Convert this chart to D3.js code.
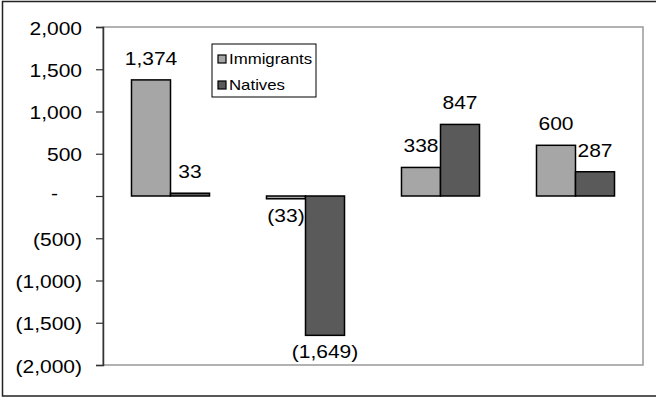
<!DOCTYPE html>
<html>
<head>
<meta charset="utf-8">
<script src="https://cdn.jsdelivr.net/npm/d3@7"></script>
<style>
  body { margin: 0; background: #fff; }
  svg { display: block; font-family: "Liberation Sans", Arial, sans-serif; }
</style>
</head>
<body>
<script>
// Data (no category labels are shown on the axis)
const categories = ["Group 1", "Group 2", "Group 3", "Group 4"];
const seriesNames = ["Immigrants", "Natives"];
const immigrants = [1374, -33, 338, 600];
const natives = [33, -1649, 847, 287];
const yTicks = [2000, 1500, 1000, 500, 0, -500, -1000, -1500, -2000];

const width = 656;
const height = 397;
const margin = { top: 27, right: 13, bottom: 32, left: 103 };
const stretch = 1.2; // text in the picture is drawn a bit wide
const colors = { Immigrants: "#a6a6a6", Natives: "#5a5a5a" };

const svg = d3.select("body")
  .append("svg")
  .attr("width", width)
  .attr("height", height);

// outer frame (right side falls off the picture)
svg.append("rect")
  .attr("x", 2.5).attr("y", 1.5)
  .attr("width", width + 10).attr("height", 394.5)
  .attr("fill", "none")
  .attr("stroke", "#222")
  .attr("stroke-width", 1.5);

const x0 = d3.scaleBand()
  .domain(categories)
  .range([margin.left, width - margin.right])
  .paddingInner(0.422)
  .paddingOuter(0.211);

const x1 = d3.scaleBand()
  .domain(seriesNames)
  .range([0, x0.bandwidth()]);

const y = d3.scaleLinear()
  .domain([-2000, 2000])
  .range([height - margin.bottom, margin.top]);

// plot area border
svg.append("rect")
  .attr("x", margin.left)
  .attr("y", margin.top)
  .attr("width", width - margin.right - margin.left)
  .attr("height", height - margin.bottom - margin.top)
  .attr("fill", "none")
  .attr("stroke", "#999")
  .attr("stroke-width", 1.5);

// y axis
const fmt = v => {
  if (v === 0) return "-";
  const s = d3.format(",")(Math.abs(v));
  return v < 0 ? `(${s})` : s;
};

const yAxis = svg.append("g")
  .attr("transform", `translate(${margin.left},0)`)
  .call(d3.axisLeft(y).tickValues(yTicks).tickSize(7).tickFormat(fmt));

yAxis.select(".domain").attr("stroke", "#333").attr("stroke-width", 1.5);
yAxis.selectAll(".tick line").attr("stroke", "#333").attr("stroke-width", 1.2);
yAxis.selectAll(".tick text").remove();

yAxis.selectAll(".tick").each(function (d) {
  d3.select(this).append("text")
    .attr("transform", d === 0
      ? `translate(-45,3) scale(${stretch},1)`
      : `translate(-21,7) scale(${stretch},1)`)
    .attr("text-anchor", "end")
    .attr("font-size", 17.5)
    .attr("fill", "#000")
    .text(fmt(d));
});

// bars
const rows = categories.map((c, i) => ({
  category: c,
  values: [
    { key: "Immigrants", value: immigrants[i] },
    { key: "Natives", value: natives[i] }
  ]
}));

const groups = svg.selectAll("g.cat")
  .data(rows)
  .enter()
  .append("g")
  .attr("class", "cat")
  .attr("transform", d => `translate(${x0(d.category)},0)`);

groups.selectAll("rect")
  .data(d => d.values)
  .enter()
  .append("rect")
  .attr("x", d => x1(d.key))
  .attr("y", d => y(Math.max(0, d.value)))
  .attr("width", x1.bandwidth())
  .attr("height", d => Math.abs(y(d.value) - y(0)))
  .attr("fill", d => colors[d.key])
  .attr("stroke", "#000")
  .attr("stroke-width", 1.5);

// value labels
groups.selectAll("text")
  .data(d => d.values)
  .enter()
  .append("text")
  .attr("transform", d => {
    const cx = x1(d.key) + x1.bandwidth() / 2;
    const ty = d.value >= 0 ? y(d.value) - 15 : y(d.value) + 23;
    return `translate(${cx},${ty}) scale(${stretch},1)`;
  })
  .attr("text-anchor", "middle")
  .attr("font-size", 17.5)
  .attr("fill", "#000")
  .text(d => fmt(d.value));

// legend
const legend = svg.append("g").attr("transform", "translate(212,44)");

legend.append("rect")
  .attr("width", 104)
  .attr("height", 53)
  .attr("fill", "#fff")
  .attr("stroke", "#000")
  .attr("stroke-width", 1);

const item = legend.selectAll("g.item")
  .data(seriesNames)
  .enter()
  .append("g")
  .attr("class", "item")
  .attr("transform", (d, i) => `translate(6,${11 + i * 26})`);

item.append("rect")
  .attr("width", 8)
  .attr("height", 8)
  .attr("fill", d => colors[d])
  .attr("stroke", "#000")
  .attr("stroke-width", 1.2);

item.append("text")
  .attr("transform", `translate(11,9) scale(${stretch},1)`)
  .attr("font-size", 14)
  .attr("fill", "#000")
  .text(d => d);
</script>
</body>
</html>
